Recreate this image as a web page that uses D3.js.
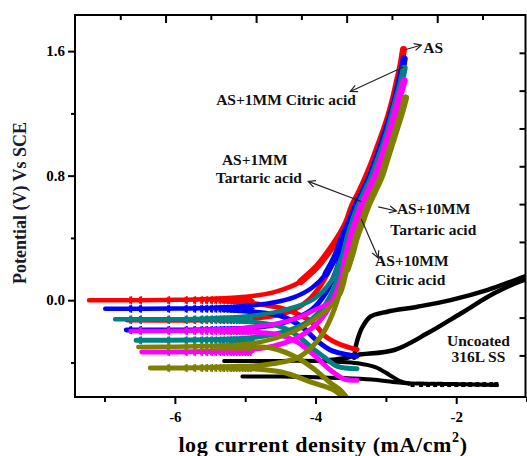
<!DOCTYPE html>
<html><head><meta charset="utf-8">
<script src="https://cdn.jsdelivr.net/npm/d3@7"></script>
<style>
body{margin:0;background:#fff}
svg{display:block}
text{font-family:"Liberation Serif","Times New Roman",serif;font-weight:bold}
</style>
</head><body>
<svg id="chart" width="527" height="456"></svg>
<script>
// Potentiodynamic polarization curves: potential (V vs SCE) against log current density.
// Each branch is a list of [log i, E] points.

// AS
const asRise = [[-7.22,0.0],[-6.5,0.0],[-6.0,0.002],[-5.5,0.008],[-5.0,0.022],[-4.6,0.05],[-4.21,0.12],[-3.98,0.215],[-3.8,0.32],[-3.68,0.4],[-3.56,0.5],[-3.48,0.6],[-3.37,0.7],[-3.27,0.8],[-3.18,0.9],[-3.1,1.0],[-3.02,1.1],[-2.95,1.2],[-2.89,1.3],[-2.84,1.4],[-2.79,1.5],[-2.75,1.61]];
const asLow  = [[-6.68,-0.128],[-5.6,-0.127],[-5.0,-0.12],[-4.6,-0.1],[-4.3,-0.06],[-4.1,0.0],[-3.92,0.1],[-3.78,0.22],[-3.68,0.34]];
const asFall = [[-5.3,-0.005],[-4.9,-0.02],[-4.5,-0.05],[-4.2,-0.1],[-4.0,-0.16],[-3.88,-0.224],[-3.69,-0.277],[-3.55,-0.3],[-3.41,-0.317]];

// AS + 1 mM citric acid
const citric1Rise = [[-6.99,-0.055],[-6.0,-0.054],[-5.5,-0.05],[-5.0,-0.038],[-4.6,-0.015],[-4.3,0.02],[-4.05,0.08],[-3.85,0.17],[-3.72,0.28],[-3.62,0.4],[-3.52,0.5],[-3.43,0.6],[-3.32,0.7],[-3.22,0.8],[-3.14,0.9],[-3.06,1.0],[-2.99,1.1],[-2.92,1.2],[-2.86,1.3],[-2.81,1.4],[-2.76,1.5],[-2.74,1.55]];
const citric1Low  = [[-6.69,-0.192],[-5.6,-0.19],[-5.0,-0.18],[-4.6,-0.16],[-4.3,-0.12],[-4.05,-0.06],[-3.85,0.05],[-3.7,0.2],[-3.62,0.33]];
const citric1Fall = [[-5.3,-0.06],[-4.9,-0.075],[-4.5,-0.1],[-4.2,-0.17],[-3.98,-0.26],[-3.79,-0.32],[-3.6,-0.345],[-3.41,-0.36]];

// AS + 1 mM tartaric acid
const tartaric1Rise = [[-6.85,-0.123],[-6.0,-0.122],[-5.5,-0.117],[-5.0,-0.105],[-4.6,-0.08],[-4.3,-0.045],[-4.05,0.0],[-3.85,0.08],[-3.7,0.18],[-3.6,0.29],[-3.54,0.4],[-3.47,0.5],[-3.39,0.6],[-3.29,0.7],[-3.19,0.8],[-3.11,0.9],[-3.03,1.0],[-2.96,1.1],[-2.9,1.2],[-2.84,1.3],[-2.78,1.4],[-2.74,1.49]];
const tartaric1Low  = [[-6.55,-0.258],[-5.6,-0.255],[-5.0,-0.245],[-4.6,-0.22],[-4.3,-0.18],[-4.05,-0.12],[-3.85,-0.02],[-3.7,0.12],[-3.58,0.3]];
const tartaric1Fall = [[-5.3,-0.125],[-4.9,-0.14],[-4.5,-0.17],[-4.25,-0.23],[-4.07,-0.3],[-3.88,-0.365],[-3.69,-0.425],[-3.41,-0.44]];

// AS + 10 mM citric acid
const citric10Rise = [[-6.63,-0.198],[-6.0,-0.197],[-5.5,-0.19],[-5.0,-0.178],[-4.6,-0.155],[-4.3,-0.12],[-4.0,-0.06],[-3.76,0.0],[-3.6,0.2],[-3.5,0.4],[-3.43,0.5],[-3.35,0.6],[-3.25,0.7],[-3.15,0.8],[-3.07,0.9],[-3.0,1.0],[-2.93,1.1],[-2.87,1.2],[-2.81,1.3],[-2.76,1.38],[-2.74,1.41]];
const citric10Low  = [[-6.47,-0.333],[-5.6,-0.33],[-5.0,-0.32],[-4.6,-0.295],[-4.3,-0.25],[-4.05,-0.18],[-3.85,-0.08],[-3.7,0.06],[-3.57,0.25]];
const citric10Fall = [[-5.3,-0.2],[-4.74,-0.21],[-4.5,-0.225],[-4.26,-0.27],[-4.03,-0.35],[-3.79,-0.449],[-3.6,-0.505],[-3.41,-0.515]];

// AS + 10 mM tartaric acid
const tartaric10Rise  = [[-6.52,-0.3],[-6.0,-0.299],[-5.5,-0.295],[-5.21,-0.29],[-4.74,-0.265],[-4.26,-0.19],[-3.95,-0.1],[-3.79,-0.04],[-3.64,0.05],[-3.55,0.2],[-3.48,0.3],[-3.42,0.4],[-3.34,0.5],[-3.26,0.6],[-3.16,0.7],[-3.06,0.8],[-2.99,0.9],[-2.92,1.0],[-2.85,1.1],[-2.78,1.2],[-2.72,1.3]];
const tartaric10Low   = [[-6.35,-0.436],[-5.7,-0.434],[-5.21,-0.427],[-4.74,-0.416],[-4.26,-0.371],[-4.05,-0.3],[-3.89,-0.21],[-3.77,-0.1],[-3.69,0.0],[-3.6,0.15],[-3.5,0.3]];
const tartaric10Fall  = [[-5.0,-0.3],[-4.6,-0.31],[-4.26,-0.37],[-4.0,-0.45],[-3.79,-0.53],[-3.64,-0.58],[-3.55,-0.63]];
const tartaric10Fall2 = [[-5.21,-0.436],[-4.5,-0.46],[-4.03,-0.532],[-3.74,-0.577],[-3.6,-0.63]];

// Uncoated 316L SS
const ssFlat  = [[-5.3,-0.39],[-4.5,-0.39],[-4.0,-0.39],[-3.7,-0.395],[-3.4,-0.405],[-3.15,-0.43],[-2.95,-0.48],[-2.8,-0.52],[-2.67,-0.535]];
const ssLow   = [[-5.04,-0.49],[-4.5,-0.49],[-4.0,-0.495],[-3.6,-0.5],[-3.2,-0.51],[-2.9,-0.525],[-2.67,-0.535]];
const ssTail  = [[-2.67,-0.535],[-2.3,-0.537],[-1.9,-0.54],[-1.42,-0.545]];
const ssRise  = [[-3.45,-0.37],[-3.43,-0.3],[-3.38,-0.22],[-3.33,-0.17],[-3.22,-0.106],[-2.98,-0.074],[-2.55,-0.042],[-2.08,0.0],[-1.55,0.066],[-1.03,0.151],[-0.98,0.157]];
const ssRise2 = [[-3.8,-0.385],[-3.55,-0.37],[-3.41,-0.352],[-2.88,-0.32],[-2.41,-0.213],[-1.93,-0.084],[-1.46,0.044],[-1.03,0.13],[-0.98,0.135]];

// sampled points shown with symbols along the low-current plateaus
const plateauMarks = [-6.62,-6.48,-6.08,-5.83,-5.71,-5.61,-5.54,-5.47,-5.41,-5.35,-5.3,-5.25,-5.2,-5.16,-5.12,-5.08,-5.04,-5.0,-4.96,-4.92];
const tailMarks = [-2.62,-2.5,-2.4,-2.3,-2.2,-2.1,-2.0,-1.9,-1.8,-1.7,-1.6,-1.5,-1.43];

// axes
const xDomain = [-7.42, -1.015];
const yDomain = [-0.622, 1.832];
const xTicks = [-7,-6,-5,-4,-3,-2,-1];
const xTickLabels = [-6,-4,-2];
const yTicks = [-0.4,0.0,0.4,0.8,1.2,1.6];
const yTickLabels = [0.0,0.8,1.6];

const colors = {as:"#ff0000", citric1:"#0000ff", tartaric1:"#008080", citric10:"#ff00ff", tartaric10:"#808000", ss:"#000000"};

const svg = d3.select("#chart");
const m = {left:75, top:15, right:525.5, bottom:397};
const x = d3.scaleLinear().domain(xDomain).range([m.left, m.right]);
const y = d3.scaleLinear().domain(yDomain).range([m.bottom, m.top]);

svg.append("defs").append("clipPath").attr("id","plot")
  .append("rect").attr("x",m.left).attr("y",m.top).attr("width",m.right-m.left).attr("height",m.bottom-m.top);

const line = d3.line().x(d=>x(d[0])).y(d=>y(d[1])).curve(d3.curveCatmullRom.alpha(0.5));
const g = svg.append("g").attr("clip-path","url(#plot)");

function branch(pts, color, w, dash){
  g.append("path").attr("d", line(pts)).attr("fill","none").attr("stroke",color)
   .attr("stroke-width", w).attr("stroke-linecap","round").attr("stroke-linejoin","round")
   .attr("stroke-dasharray", dash || null);
}
function marks(pts, color){
  const start = pts[0][0], level = pts[0][1];
  plateauMarks.filter(v => v > start + 0.05).forEach(v => {
    g.append("path").attr("d", d3.symbol(d3.symbolTriangle, 24)())
      .attr("transform", `translate(${x(v)},${y(level)}) rotate(90)`)
      .attr("fill", color);
    g.append("line").attr("x1",x(v)).attr("x2",x(v)).attr("y1",y(level)-4).attr("y2",y(level)+4)
      .attr("stroke",color).attr("stroke-width",1.8);
  });
}

// uncoated steel
branch(ssFlat, colors.ss, 4);
branch(ssLow, colors.ss, 4);
branch(ssTail, colors.ss, 4, "5,2");
tailMarks.forEach(v => g.append("rect").attr("x",x(v)-2).attr("y",y(-0.542)-2.5).attr("width",4).attr("height",5).attr("fill","#000"));
branch(ssRise2, colors.ss, 4.5);
branch(ssRise, colors.ss, 4.5);

const groups = [
  [asRise, asLow, [asFall], colors.as],
  [citric1Rise, citric1Low, [citric1Fall], colors.citric1],
  [tartaric1Rise, tartaric1Low, [tartaric1Fall], colors.tartaric1],
  [citric10Rise, citric10Low, [citric10Fall], colors.citric10],
  [tartaric10Rise, tartaric10Low, [tartaric10Fall, tartaric10Fall2], colors.tartaric10]
];
groups.forEach(([rise, low, falls, c]) => {
  falls.forEach(f => branch(f, c, 5));
  branch(low, c, 5);
  branch(rise, c, 4.5);
  // the noisy anodic part reads as a wider band
  branch(rise.filter(d => d[1] >= 0.1), c, 7);
  marks(rise, c);
  marks(low, c);
});

// frame and axes
const axG = svg.append("g");
axG.append("rect").attr("x",m.left).attr("y",m.top).attr("width",m.right-m.left).attr("height",m.bottom-m.top)
  .attr("fill","none").attr("stroke","#000").attr("stroke-width",2);

const fmtX = v => xTickLabels.includes(v) ? String(v) : "";
const xAxis = d3.axisBottom(x).tickValues(xTicks).tickFormat(fmtX).tickSizeOuter(0).tickPadding(8);
const xa = axG.append("g").attr("transform",`translate(0,${m.bottom})`).call(xAxis);
xa.select(".domain").remove();
xa.selectAll(".tick line").attr("stroke-width",2).attr("y2", d => xTickLabels.includes(d) ? 7 : 5);
xa.selectAll(".tick text").attr("font-size",15).attr("fill","#000").attr("font-family",null);

const fmtY = v => yTickLabels.includes(v) ? d3.format(".1f")(v) : "";
const yAxis = d3.axisLeft(y).tickValues(yTicks).tickFormat(fmtY).tickSizeOuter(0).tickPadding(4);
const ya = axG.append("g").attr("transform",`translate(${m.left},0)`).call(yAxis);
ya.select(".domain").remove();
ya.selectAll(".tick line").attr("stroke-width",2).attr("x2", d => yTickLabels.includes(d) ? -7 : -4);
ya.selectAll(".tick text").attr("font-size",15).attr("fill","#000").attr("font-family",null);

// secondary frame ticks along the top and right edges
const topScale = d3.scaleLinear().domain([0, 9.95]).range([m.left, m.right]);
const ta = axG.append("g").attr("transform",`translate(0,${m.top})`)
  .call(d3.axisBottom(topScale).tickValues(d3.range(1,10)).tickFormat("").tickSizeOuter(0));
ta.select(".domain").remove();
ta.selectAll(".tick line").attr("stroke-width",2).attr("y2", d => d % 2 === 0 ? 8 : 5);

const rightScale = d3.scaleLinear().domain([0, 10.1]).range([m.top, m.bottom]);
const ra = axG.append("g").attr("transform",`translate(${m.right},0)`)
  .call(d3.axisLeft(rightScale).tickValues(d3.range(1,10)).tickFormat("").tickSizeOuter(0));
ra.select(".domain").remove();
ra.selectAll(".tick line").attr("stroke-width",2).attr("x2",-6);

// axis titles
const xt = svg.append("text").attr("x", 323).attr("y", 452).attr("text-anchor","middle")
  .attr("font-size",22).attr("letter-spacing",0.6).attr("fill","#000");
xt.append("tspan").text("log current density (mA/cm");
xt.append("tspan").attr("font-size",14).attr("dy",-10).text("2");
xt.append("tspan").attr("dy",10).text(")");

svg.append("text").attr("transform","translate(26,203) rotate(-90)").attr("text-anchor","middle")
  .attr("font-size",18).attr("fill","#1a1a2e").text("Potential (V) Vs SCE");

// annotations
svg.append("defs").append("marker").attr("id","arrow").attr("viewBox","-8 -5 10 10")
  .attr("refX",0).attr("refY",0).attr("markerWidth",10).attr("markerHeight",10)
  .attr("markerUnits","userSpaceOnUse").attr("orient","auto")
  .append("path").attr("d","M-7,-3.5L0,0L-7,3.5").attr("fill","none").attr("stroke","#222").attr("stroke-width",1.2);

const arrows = [
  [[-2.738,1.607],[-2.496,1.639]],
  [[-2.752,1.498],[-3.506,1.341]],
  [[-3.35,0.634],[-4.104,0.763]],
  [[-3.108,0.599],[-2.851,0.573]],
  [[-3.35,0.522],[-3.108,0.271]]
];
arrows.forEach(([a,b]) => svg.append("line").attr("x1",x(a[0])).attr("y1",y(a[1]))
  .attr("x2",x(b[0])).attr("y2",y(b[1])).attr("stroke","#222").attr("stroke-width",1.2)
  .attr("marker-end","url(#arrow)"));

const notes = [
  ["AS", -2.467, 1.585, "start"],
  ["AS+1MM Citric acid", -5.413, 1.254, "start"],
  ["AS+1MM", -4.865, 0.868, "middle"],
  ["Tartaric acid", -4.806, 0.753, "middle"],
  ["AS+10MM", -2.843, 0.554, "start"],
  ["Tartaric acid", -2.937, 0.419, "start"],
  ["AS+10MM", -3.153, 0.220, "start"],
  ["Citric acid", -3.153, 0.098, "start"],
  ["Uncoated", -1.684, -0.294, "middle"],
  ["316L SS", -1.684, -0.397, "middle"]
];
notes.forEach(([t, lx, ly, anchor]) => svg.append("text").attr("x",x(lx)).attr("y",y(ly))
  .attr("text-anchor",anchor).attr("font-size",15.5).attr("fill","#111").text(t));
</script>
</body></html>
